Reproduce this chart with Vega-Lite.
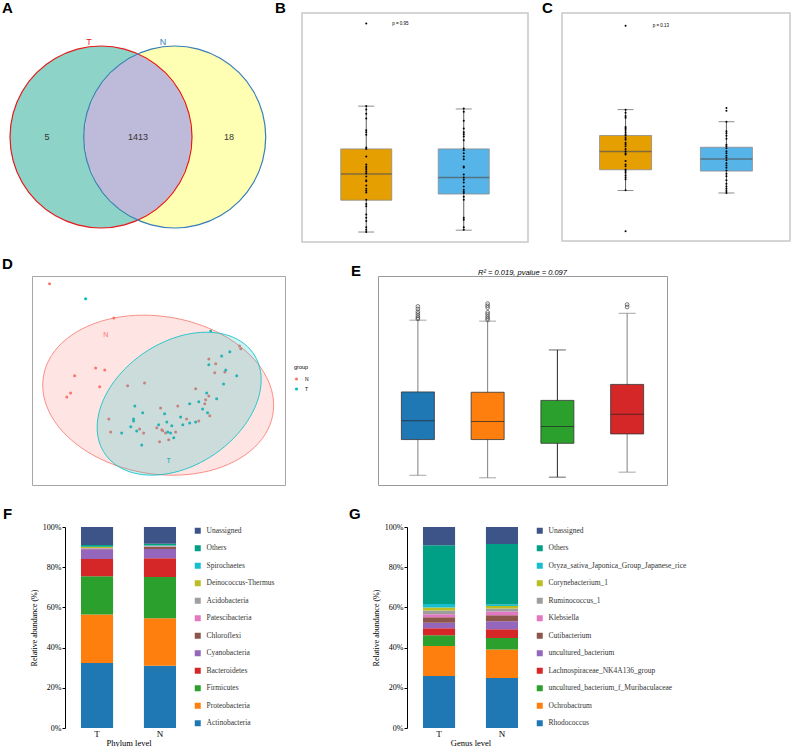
{
"$schema": "https://vega.github.io/schema/vega-lite/v6.json",
"padding": 0,
"background": "white",
"config": {
 "view": {"stroke": null},
 "font": "Liberation Sans",
 "title": {"fontSize": 15, "fontWeight": "bold", "anchor": "start", "frame": "group", "offset": 0, "font": "Liberation Sans", "color": "#000000"},
 "axis": {"labelFont": "Liberation Sans", "titleFont": "Liberation Sans", "titleFontWeight": "normal", "labelColor": "#4d4d4d", "titleColor": "#000000", "tickColor": "#4d4d4d", "domain": false, "grid": false, "labelFontSize": 4.5, "titleFontSize": 5.5, "tickSize": 2, "labelPadding": 1, "titlePadding": 2}
},
"datasets": {
 "vennT": [{"i":0,"x":1,"y":0},{"i":1,"x":0.9659,"y":0.2588},{"i":2,"x":0.866,"y":0.5},{"i":3,"x":0.7071,"y":0.7071},{"i":4,"x":0.5,"y":0.866},{"i":5,"x":0.2588,"y":0.9659},{"i":6,"x":0,"y":1},{"i":7,"x":-0.2588,"y":0.9659},{"i":8,"x":-0.5,"y":0.866},{"i":9,"x":-0.7071,"y":0.7071},{"i":10,"x":-0.866,"y":0.5},{"i":11,"x":-0.9659,"y":0.2588},{"i":12,"x":-1,"y":0},{"i":13,"x":-0.9659,"y":-0.2588},{"i":14,"x":-0.866,"y":-0.5},{"i":15,"x":-0.7071,"y":-0.7071},{"i":16,"x":-0.5,"y":-0.866},{"i":17,"x":-0.2588,"y":-0.9659},{"i":18,"x":0,"y":-1},{"i":19,"x":0.2588,"y":-0.9659},{"i":20,"x":0.5,"y":-0.866},{"i":21,"x":0.7071,"y":-0.7071},{"i":22,"x":0.866,"y":-0.5},{"i":23,"x":0.9659,"y":-0.2588}],
 "vennN": [{"i":0,"x":1.81,"y":0},{"i":1,"x":1.7759,"y":0.2588},{"i":2,"x":1.676,"y":0.5},{"i":3,"x":1.5171,"y":0.7071},{"i":4,"x":1.31,"y":0.866},{"i":5,"x":1.0688,"y":0.9659},{"i":6,"x":0.81,"y":1},{"i":7,"x":0.5512,"y":0.9659},{"i":8,"x":0.31,"y":0.866},{"i":9,"x":0.1029,"y":0.7071},{"i":10,"x":-0.056,"y":0.5},{"i":11,"x":-0.1559,"y":0.2588},{"i":12,"x":-0.19,"y":0},{"i":13,"x":-0.1559,"y":-0.2588},{"i":14,"x":-0.056,"y":-0.5},{"i":15,"x":0.1029,"y":-0.7071},{"i":16,"x":0.31,"y":-0.866},{"i":17,"x":0.5512,"y":-0.9659},{"i":18,"x":0.81,"y":-1},{"i":19,"x":1.0688,"y":-0.9659},{"i":20,"x":1.31,"y":-0.866},{"i":21,"x":1.5171,"y":-0.7071},{"i":22,"x":1.676,"y":-0.5},{"i":23,"x":1.7759,"y":-0.2588}],
 "vennLens": [{"i":0,"x":0.405,"y":-0.9143},{"i":1,"x":0.648,"y":-0.7615},{"i":2,"x":0.8377,"y":-0.5461},{"i":3,"x":0.9588,"y":-0.284},{"i":4,"x":1,"y":0},{"i":5,"x":0.9588,"y":0.284},{"i":6,"x":0.8377,"y":0.5461},{"i":7,"x":0.648,"y":0.7615},{"i":8,"x":0.405,"y":0.9143},{"i":9,"x":0.162,"y":0.7615},{"i":10,"x":-0.0277,"y":0.5461},{"i":11,"x":-0.1488,"y":0.284},{"i":12,"x":-0.19,"y":0},{"i":13,"x":-0.1488,"y":-0.284},{"i":14,"x":-0.0277,"y":-0.5461},{"i":15,"x":0.162,"y":-0.7615}],
 "vennText": [{"x":-0.132,"y":1.044,"label":"T","c":"T"},{"x":0.681,"y":1.044,"label":"N","c":"N"},{"x":-0.593,"y":0,"label":"5","c":"n"},{"x":0.407,"y":0,"label":"1413","c":"n"},{"x":1.407,"y":0,"label":"18","c":"n"}],
 "bBox": [{"g":1,"grp":"N","lo":321,"q1":388,"med":443,"q3":496,"hi":586},{"g":2,"grp":"T","lo":325,"q1":401,"med":436,"q3":496,"hi":580}],
 "bPts": [{"g":1,"v":760},{"g":1,"v":586},{"g":1,"v":579},{"g":1,"v":570},{"g":1,"v":560},{"g":1,"v":535},{"g":1,"v":531},{"g":1,"v":526},{"g":1,"v":499},{"g":1,"v":496},{"g":1,"v":480},{"g":1,"v":463},{"g":1,"v":459},{"g":1,"v":456},{"g":1,"v":452},{"g":1,"v":448},{"g":1,"v":444},{"g":1,"v":438},{"g":1,"v":430},{"g":1,"v":428},{"g":1,"v":419},{"g":1,"v":412},{"g":1,"v":408},{"g":1,"v":404},{"g":1,"v":389},{"g":1,"v":380},{"g":1,"v":375},{"g":1,"v":358},{"g":1,"v":351},{"g":1,"v":344},{"g":1,"v":331},{"g":1,"v":326},{"g":1,"v":321},
  {"g":2,"v":581},{"g":2,"v":574},{"g":2,"v":555},{"g":2,"v":539},{"g":2,"v":531},{"g":2,"v":527},{"g":2,"v":522},{"g":2,"v":514},{"g":2,"v":497},{"g":2,"v":493},{"g":2,"v":487},{"g":2,"v":480},{"g":2,"v":474},{"g":2,"v":459},{"g":2,"v":457},{"g":2,"v":442},{"g":2,"v":436},{"g":2,"v":431},{"g":2,"v":425},{"g":2,"v":417},{"g":2,"v":410},{"g":2,"v":406},{"g":2,"v":403},{"g":2,"v":395},{"g":2,"v":389},{"g":2,"v":351},{"g":2,"v":347},{"g":2,"v":331},{"g":2,"v":326}],
 "cBox": [{"g":1,"grp":"N","lo":2.01,"q1":2.64,"med":3.2,"q3":3.69,"hi":4.48},{"g":2,"grp":"T","lo":1.93,"q1":2.6,"med":2.97,"q3":3.33,"hi":4.11}],
 "cPts": [{"g":1,"v":7.05},{"g":1,"v":4.48},{"g":1,"v":4.39},{"g":1,"v":4.29},{"g":1,"v":4.23},{"g":1,"v":3.95},{"g":1,"v":3.91},{"g":1,"v":3.86},{"g":1,"v":3.79},{"g":1,"v":3.73},{"g":1,"v":3.68},{"g":1,"v":3.61},{"g":1,"v":3.56},{"g":1,"v":3.47},{"g":1,"v":3.42},{"g":1,"v":3.36},{"g":1,"v":3.28},{"g":1,"v":3.21},{"g":1,"v":3.15},{"g":1,"v":3.11},{"g":1,"v":2.91},{"g":1,"v":2.8},{"g":1,"v":2.75},{"g":1,"v":2.65},{"g":1,"v":2.6},{"g":1,"v":2.55},{"g":1,"v":2.47},{"g":1,"v":2.41},{"g":1,"v":2.35},{"g":1,"v":2.01},{"g":1,"v":0.76},
  {"g":2,"v":4.53},{"g":2,"v":4.45},{"g":2,"v":4.11},{"g":2,"v":3.82},{"g":2,"v":3.76},{"g":2,"v":3.68},{"g":2,"v":3.59},{"g":2,"v":3.41},{"g":2,"v":3.36},{"g":2,"v":3.3},{"g":2,"v":3.21},{"g":2,"v":3.15},{"g":2,"v":3.07},{"g":2,"v":3.01},{"g":2,"v":2.93},{"g":2,"v":2.84},{"g":2,"v":2.77},{"g":2,"v":2.7},{"g":2,"v":2.62},{"g":2,"v":2.52},{"g":2,"v":2.44},{"g":2,"v":2.32},{"g":2,"v":2.21},{"g":2,"v":2.13},{"g":2,"v":2.06},{"g":2,"v":1.99},{"g":2,"v":1.93}],
 "dPts": [{"group":"N","pc1":-0.379,"pc2":0.355},{"group":"N","pc1":-0.174,"pc2":0.25},{"group":"N","pc1":-0.232,"pc2":0.096},{"group":"N","pc1":-0.203,"pc2":0.09},{"group":"N","pc1":-0.299,"pc2":0.072},{"group":"N","pc1":-0.219,"pc2":0.038},{"group":"N","pc1":-0.312,"pc2":0.019},{"group":"N","pc1":-0.324,"pc2":0.007},{"group":"N","pc1":-0.13,"pc2":0.041},{"group":"N","pc1":-0.076,"pc2":0.05},{"group":"N","pc1":0.129,"pc2":0.124},{"group":"N","pc1":0.151,"pc2":0.109},{"group":"N","pc1":0.148,"pc2":0.081},{"group":"N","pc1":0.18,"pc2":0.084},{"group":"N","pc1":0.227,"pc2":0.164},{"group":"N","pc1":0.231,"pc2":0.155},{"group":"N","pc1":0.087,"pc2":0.032},{"group":"N","pc1":0.129,"pc2":0.01},{"group":"N","pc1":0.119,"pc2":-0.002},{"group":"N","pc1":0.116,"pc2":-0.014},{"group":"N","pc1":0.132,"pc2":-0.051},{"group":"N","pc1":0.03,"pc2":-0.021},{"group":"N","pc1":-0.025,"pc2":-0.027},{"group":"N","pc1":-0.19,"pc2":-0.061},{"group":"N","pc1":-0.184,"pc2":-0.101},{"group":"N","pc1":-0.092,"pc2":-0.092},{"group":"N","pc1":-0.079,"pc2":-0.104},{"group":"N","pc1":-0.037,"pc2":-0.088},{"group":"N","pc1":-0.021,"pc2":-0.094},{"group":"N","pc1":-0.018,"pc2":-0.097},{"group":"N","pc1":-0.009,"pc2":-0.104},{"group":"N","pc1":0.023,"pc2":-0.101},{"group":"N","pc1":0.058,"pc2":-0.061},{"group":"N","pc1":0.097,"pc2":-0.067},{"group":"N","pc1":-0.028,"pc2":-0.131},{"group":"N","pc1":0.001,"pc2":-0.125},
  {"group":"T","pc1":-0.264,"pc2":0.309},{"group":"T","pc1":0.135,"pc2":0.21},{"group":"T","pc1":0.17,"pc2":0.133},{"group":"T","pc1":0.196,"pc2":0.146},{"group":"T","pc1":0.129,"pc2":0.106},{"group":"T","pc1":0.183,"pc2":0.09},{"group":"T","pc1":0.218,"pc2":0.072},{"group":"T","pc1":0.176,"pc2":0.047},{"group":"T","pc1":0.122,"pc2":0.019},{"group":"T","pc1":0.154,"pc2":0.001},{"group":"T","pc1":0.097,"pc2":-0.008},{"group":"T","pc1":0.068,"pc2":-0.014},{"group":"T","pc1":0.109,"pc2":-0.03},{"group":"T","pc1":0.125,"pc2":-0.042},{"group":"T","pc1":-0.107,"pc2":-0.021},{"group":"T","pc1":-0.082,"pc2":-0.042},{"group":"T","pc1":-0.111,"pc2":-0.061},{"group":"T","pc1":-0.111,"pc2":-0.067},{"group":"T","pc1":-0.012,"pc2":-0.045},{"group":"T","pc1":0.039,"pc2":-0.055},{"group":"T","pc1":-0.005,"pc2":-0.07},{"group":"T","pc1":-0.031,"pc2":-0.079},{"group":"T","pc1":0.011,"pc2":-0.082},{"group":"T","pc1":0.046,"pc2":-0.079},{"group":"T","pc1":0.068,"pc2":-0.073},{"group":"T","pc1":0.087,"pc2":-0.07},{"group":"T","pc1":-0.12,"pc2":-0.085},{"group":"T","pc1":-0.101,"pc2":-0.098},{"group":"T","pc1":-0.149,"pc2":-0.104},{"group":"T","pc1":-0.002,"pc2":-0.101},{"group":"T","pc1":0.007,"pc2":-0.104},{"group":"T","pc1":0.017,"pc2":-0.119},{"group":"T","pc1":-0.085,"pc2":-0.141}],
 "dEllN": [{"i":0,"x":0.3359,"y":-0.0185},{"i":1,"x":0.3233,"y":-0.0807},{"i":2,"x":0.2865,"y":-0.1366},{"i":3,"x":0.228,"y":-0.1822},{"i":4,"x":0.1517,"y":-0.2147},{"i":5,"x":0.0628,"y":-0.2317},{"i":6,"x":-0.0325,"y":-0.232},{"i":7,"x":-0.1278,"y":-0.2157},{"i":8,"x":-0.2167,"y":-0.1839},{"i":9,"x":-0.293,"y":-0.1386},{"i":10,"x":-0.3515,"y":-0.0832},{"i":11,"x":-0.3883,"y":-0.0211},{"i":12,"x":-0.4009,"y":0.0431},{"i":13,"x":-0.3883,"y":0.1053},{"i":14,"x":-0.3515,"y":0.1612},{"i":15,"x":-0.293,"y":0.2068},{"i":16,"x":-0.2167,"y":0.2393},{"i":17,"x":-0.1278,"y":0.2563},{"i":18,"x":-0.0325,"y":0.2566},{"i":19,"x":0.0628,"y":0.2403},{"i":20,"x":0.1517,"y":0.2085},{"i":21,"x":0.228,"y":0.1632},{"i":22,"x":0.2865,"y":0.1078},{"i":23,"x":0.3233,"y":0.0457}],
 "dEllT": [{"i":0,"x":0.296,"y":0.0594},{"i":1,"x":0.2871,"y":0.0032},{"i":2,"x":0.2609,"y":-0.0541},{"i":3,"x":0.2194,"y":-0.1087},{"i":4,"x":0.1652,"y":-0.1568},{"i":5,"x":0.1021,"y":-0.1952},{"i":6,"x":0.0344,"y":-0.2212},{"i":7,"x":-0.0333,"y":-0.233},{"i":8,"x":-0.0964,"y":-0.23},{"i":9,"x":-0.1506,"y":-0.2123},{"i":10,"x":-0.1921,"y":-0.1809},{"i":11,"x":-0.2183,"y":-0.1382},{"i":12,"x":-0.2272,"y":-0.087},{"i":13,"x":-0.2183,"y":-0.0308},{"i":14,"x":-0.1921,"y":0.0265},{"i":15,"x":-0.1506,"y":0.0811},{"i":16,"x":-0.0964,"y":0.1292},{"i":17,"x":-0.0333,"y":0.1676},{"i":18,"x":0.0344,"y":0.1936},{"i":19,"x":0.1021,"y":0.2054},{"i":20,"x":0.1652,"y":0.2024},{"i":21,"x":0.2194,"y":0.1847},{"i":22,"x":0.2609,"y":0.1533},{"i":23,"x":0.2871,"y":0.1106}],
 "eBox": [{"k":1,"name":"All between Group","lo":0.315,"q1":0.429,"med":0.489,"q3":0.581,"hi":0.81},{"k":2,"name":"All within Group","lo":0.307,"q1":0.429,"med":0.487,"q3":0.58,"hi":0.807},{"k":3,"name":"T","lo":0.309,"q1":0.417,"med":0.471,"q3":0.554,"hi":0.715},{"k":4,"name":"N","lo":0.325,"q1":0.447,"med":0.51,"q3":0.605,"hi":0.832}],
 "eOut": [{"k":1,"v":0.814},{"k":1,"v":0.818},{"k":1,"v":0.824},{"k":1,"v":0.831},{"k":1,"v":0.837},{"k":1,"v":0.846},{"k":1,"v":0.854},{"k":2,"v":0.811},{"k":2,"v":0.816},{"k":2,"v":0.822},{"k":2,"v":0.829},{"k":2,"v":0.835},{"k":2,"v":0.85},{"k":2,"v":0.856},{"k":2,"v":0.863},{"k":4,"v":0.852},{"k":4,"v":0.86}],
 "fPhy": [{"sample":"T","taxon":"Actinobacteria","value":32.3,"rank":1},{"sample":"T","taxon":"Proteobacteria","value":24.2,"rank":2},{"sample":"T","taxon":"Firmicutes","value":19.0,"rank":3},{"sample":"T","taxon":"Bacteroidetes","value":8.6,"rank":4},{"sample":"T","taxon":"Cyanobacteria","value":4.8,"rank":5},{"sample":"T","taxon":"Chloroflexi","value":0.3,"rank":6},{"sample":"T","taxon":"Patescibacteria","value":0.2,"rank":7},{"sample":"T","taxon":"Acidobacteria","value":0.2,"rank":8},{"sample":"T","taxon":"Deinococcus-Thermus","value":0.4,"rank":9},{"sample":"T","taxon":"Spirochaetes","value":0.2,"rank":10},{"sample":"T","taxon":"Others","value":0.9,"rank":11},{"sample":"T","taxon":"Unassigned","value":8.9,"rank":12},
  {"sample":"N","taxon":"Actinobacteria","value":31.0,"rank":1},{"sample":"N","taxon":"Proteobacteria","value":23.6,"rank":2},{"sample":"N","taxon":"Firmicutes","value":20.5,"rank":3},{"sample":"N","taxon":"Bacteroidetes","value":9.3,"rank":4},{"sample":"N","taxon":"Cyanobacteria","value":4.7,"rank":5},{"sample":"N","taxon":"Chloroflexi","value":1.0,"rank":6},{"sample":"N","taxon":"Patescibacteria","value":0.2,"rank":7},{"sample":"N","taxon":"Acidobacteria","value":0.2,"rank":8},{"sample":"N","taxon":"Deinococcus-Thermus","value":0.2,"rank":9},{"sample":"N","taxon":"Spirochaetes","value":0.1,"rank":10},{"sample":"N","taxon":"Others","value":0.9,"rank":11},{"sample":"N","taxon":"Unassigned","value":8.3,"rank":12}],
 "gGen": [{"sample":"T","taxon":"Rhodococcus","value":25.9,"rank":1},{"sample":"T","taxon":"Ochrobactrum","value":14.9,"rank":2},{"sample":"T","taxon":"uncultured_bacterium_f_Muribaculaceae","value":5.3,"rank":3},{"sample":"T","taxon":"Lachnospiraceae_NK4A136_group","value":3.5,"rank":4},{"sample":"T","taxon":"uncultured_bacterium","value":2.8,"rank":5},{"sample":"T","taxon":"Cutibacterium","value":2.7,"rank":6},{"sample":"T","taxon":"Klebsiella","value":1.5,"rank":7},{"sample":"T","taxon":"Ruminococcus_1","value":1.8,"rank":8},{"sample":"T","taxon":"Corynebacterium_1","value":1.5,"rank":9},{"sample":"T","taxon":"Oryza_sativa_Japonica_Group_Japanese_rice","value":1.8,"rank":10},{"sample":"T","taxon":"Others","value":29.2,"rank":11},{"sample":"T","taxon":"Unassigned","value":9.1,"rank":12},
  {"sample":"N","taxon":"Rhodococcus","value":24.9,"rank":1},{"sample":"N","taxon":"Ochrobactrum","value":14.1,"rank":2},{"sample":"N","taxon":"uncultured_bacterium_f_Muribaculaceae","value":5.8,"rank":3},{"sample":"N","taxon":"Lachnospiraceae_NK4A136_group","value":4.3,"rank":4},{"sample":"N","taxon":"uncultured_bacterium","value":4.0,"rank":5},{"sample":"N","taxon":"Cutibacterium","value":3.0,"rank":6},{"sample":"N","taxon":"Klebsiella","value":1.9,"rank":7},{"sample":"N","taxon":"Ruminococcus_1","value":1.4,"rank":8},{"sample":"N","taxon":"Corynebacterium_1","value":1.3,"rank":9},{"sample":"N","taxon":"Oryza_sativa_Japonica_Group_Japanese_rice","value":0.7,"rank":10},{"sample":"N","taxon":"Others","value":30.1,"rank":11},{"sample":"N","taxon":"Unassigned","value":8.5,"rank":12}]
},
"spacing": -4,
"resolve": {"scale": {"color": "independent", "fill": "independent", "stroke": "independent"}, "legend": {"color": "independent"}},
"vconcat": [
 {"hconcat": [
  {"width": 268, "height": 247,
   "title": {"text": "A", "dx": 2, "offset": -3},
   "layer": [
    {"data": {"name": "vennT"}, "mark": {"type": "line", "interpolate": "cardinal-closed", "fill": "#8DD3C7", "strokeWidth": 0},
     "encoding": {"x": {"field": "x", "type": "quantitative", "scale": {"domain": [-1.11, 1.835], "nice": false, "zero": false}, "axis": null},
                  "y": {"field": "y", "type": "quantitative", "scale": {"domain": [-1.352, 1.363], "nice": false, "zero": false}, "axis": null},
                  "order": {"field": "i", "type": "quantitative"}}},
    {"data": {"name": "vennN"}, "mark": {"type": "line", "interpolate": "cardinal-closed", "fill": "#FFFFB3", "strokeWidth": 0},
     "encoding": {"x": {"field": "x", "type": "quantitative", "axis": null}, "y": {"field": "y", "type": "quantitative", "axis": null}, "order": {"field": "i", "type": "quantitative"}}},
    {"data": {"name": "vennLens"}, "mark": {"type": "line", "interpolate": "linear-closed", "fill": "#BEBADA", "strokeWidth": 0},
     "encoding": {"x": {"field": "x", "type": "quantitative", "axis": null}, "y": {"field": "y", "type": "quantitative", "axis": null}, "order": {"field": "i", "type": "quantitative"}}},
    {"data": {"name": "vennT"}, "mark": {"type": "line", "interpolate": "cardinal-closed", "stroke": "#E41A1C", "strokeWidth": 1.2},
     "encoding": {"x": {"field": "x", "type": "quantitative", "axis": null}, "y": {"field": "y", "type": "quantitative", "axis": null}, "order": {"field": "i", "type": "quantitative"}}},
    {"data": {"name": "vennN"}, "mark": {"type": "line", "interpolate": "cardinal-closed", "stroke": "#377EB8", "strokeWidth": 1.2},
     "encoding": {"x": {"field": "x", "type": "quantitative", "axis": null}, "y": {"field": "y", "type": "quantitative", "axis": null}, "order": {"field": "i", "type": "quantitative"}}},
    {"data": {"name": "vennText"}, "mark": {"type": "text", "fontSize": 9, "baseline": "middle"},
     "encoding": {"x": {"field": "x", "type": "quantitative", "axis": null}, "y": {"field": "y", "type": "quantitative", "axis": null}, "text": {"field": "label"},
                  "color": {"field": "c", "type": "nominal", "scale": {"domain": ["T", "N", "n"], "range": ["#E41A1C", "#377EB8", "#333333"]}, "legend": null}}}
   ]},
  {"width": 226, "height": 229,
   "title": {"text": "B", "dx": -27, "offset": -3},
   "view": {"stroke": "#c8c8c8", "strokeWidth": 1.5},
   "layer": [
    {"data": {"name": "bBox"}, "mark": {"type": "rule", "color": "#333333", "strokeWidth": 0.8},
     "encoding": {"x": {"field": "g", "type": "quantitative", "scale": {"domain": [0.392, 2.608], "nice": false, "zero": false}, "axis": {"title": "group", "values": [1, 2], "labelExpr": "datum.value == 1 ? 'N' : 'T'"}},
                  "y": {"field": "lo", "type": "quantitative", "scale": {"domain": [300, 782], "nice": false, "zero": false}, "axis": {"title": "OTU", "values": [300, 400, 500, 600, 700]}},
                  "y2": {"field": "hi"}}},
    {"data": {"name": "bBox"}, "mark": {"type": "tick", "orient": "horizontal", "size": 16, "thickness": 0.8, "color": "#333333"},
     "encoding": {"x": {"field": "g", "type": "quantitative", "axis": null}, "y": {"field": "lo", "type": "quantitative", "axis": null}}},
    {"data": {"name": "bBox"}, "mark": {"type": "tick", "orient": "horizontal", "size": 16, "thickness": 0.8, "color": "#333333"},
     "encoding": {"x": {"field": "g", "type": "quantitative", "axis": null}, "y": {"field": "hi", "type": "quantitative", "axis": null}}},
    {"data": {"name": "bBox"}, "mark": {"type": "bar", "size": 51, "stroke": "#8c8c8c", "strokeWidth": 0.8},
     "encoding": {"x": {"field": "g", "type": "quantitative", "axis": null}, "y": {"field": "q1", "type": "quantitative", "axis": null}, "y2": {"field": "q3"},
                  "fill": {"field": "grp", "type": "nominal", "scale": {"domain": ["N", "T"], "range": ["#E69F00", "#56B4E9"]}, "legend": null}}},
    {"data": {"name": "bBox"}, "mark": {"type": "tick", "orient": "horizontal", "size": 51, "thickness": 1.5, "color": "#555555"},
     "encoding": {"x": {"field": "g", "type": "quantitative", "axis": null}, "y": {"field": "med", "type": "quantitative", "axis": null}}},
    {"data": {"name": "bPts"}, "mark": {"type": "point", "filled": true, "size": 4, "color": "#000000", "opacity": 1},
     "encoding": {"x": {"field": "g", "type": "quantitative", "axis": null}, "y": {"field": "v", "type": "quantitative", "axis": null}}},
    {"data": {"values": [{"label": "p = 0.95"}]}, "mark": {"type": "text", "fontSize": 4.5, "color": "#000000"},
     "encoding": {"x": {"datum": 1.35, "axis": null}, "y": {"datum": 759, "axis": null}, "text": {"field": "label"}}}
   ]},
  {"width": 228, "height": 228,
   "title": {"text": "C", "dx": -20, "offset": -3},
   "view": {"stroke": "#c8c8c8", "strokeWidth": 1.5},
   "layer": [
    {"data": {"name": "cBox"}, "mark": {"type": "rule", "color": "#333333", "strokeWidth": 0.8},
     "encoding": {"x": {"field": "g", "type": "quantitative", "scale": {"domain": [0.419, 2.581], "nice": false, "zero": false}, "axis": {"title": "group", "values": [1, 2], "labelExpr": "datum.value == 1 ? 'N' : 'T'"}},
                  "y": {"field": "lo", "type": "quantitative", "scale": {"domain": [0.46, 7.44], "nice": false, "zero": false}, "axis": {"title": "Shannon", "values": [2, 4, 6]}},
                  "y2": {"field": "hi"}}},
    {"data": {"name": "cBox"}, "mark": {"type": "tick", "orient": "horizontal", "size": 16, "thickness": 0.8, "color": "#333333"},
     "encoding": {"x": {"field": "g", "type": "quantitative", "axis": null}, "y": {"field": "lo", "type": "quantitative", "axis": null}}},
    {"data": {"name": "cBox"}, "mark": {"type": "tick", "orient": "horizontal", "size": 16, "thickness": 0.8, "color": "#333333"},
     "encoding": {"x": {"field": "g", "type": "quantitative", "axis": null}, "y": {"field": "hi", "type": "quantitative", "axis": null}}},
    {"data": {"name": "cBox"}, "mark": {"type": "bar", "size": 52, "stroke": "#8c8c8c", "strokeWidth": 0.8},
     "encoding": {"x": {"field": "g", "type": "quantitative", "axis": null}, "y": {"field": "q1", "type": "quantitative", "axis": null}, "y2": {"field": "q3"},
                  "fill": {"field": "grp", "type": "nominal", "scale": {"domain": ["N", "T"], "range": ["#E69F00", "#56B4E9"]}, "legend": null}}},
    {"data": {"name": "cBox"}, "mark": {"type": "tick", "orient": "horizontal", "size": 52, "thickness": 1.5, "color": "#555555"},
     "encoding": {"x": {"field": "g", "type": "quantitative", "axis": null}, "y": {"field": "med", "type": "quantitative", "axis": null}}},
    {"data": {"name": "cPts"}, "mark": {"type": "point", "filled": true, "size": 4, "color": "#000000", "opacity": 1},
     "encoding": {"x": {"field": "g", "type": "quantitative", "axis": null}, "y": {"field": "v", "type": "quantitative", "axis": null}}},
    {"data": {"values": [{"label": "p = 0.13"}]}, "mark": {"type": "text", "fontSize": 4.5, "color": "#000000"},
     "encoding": {"x": {"datum": 1.35, "axis": null}, "y": {"datum": 7.05, "axis": null}, "text": {"field": "label"}}}
   ]}
 ], "spacing": 34, "bounds": "flush",
 "resolve": {"scale": {"color": "independent", "fill": "independent", "stroke": "independent"}, "legend": {"color": "independent"}}},
 {"vconcat": [
 {"hconcat": [
  {"width": 32, "height": 232, "data": {"values": []}, "mark": "point"},
  {"hconcat": [
   {"width": 253, "height": 209,
    "title": {"text": "D", "dx": -30},
    "view": {"stroke": "#a6a6a6", "strokeWidth": 1},
    "layer": [
     {"data": {"name": "dPts"}, "mark": {"type": "point", "filled": true, "size": 9, "opacity": 1},
      "encoding": {"x": {"field": "pc1", "type": "quantitative", "scale": {"domain": [-0.435, 0.372], "nice": false, "zero": false}, "axis": {"title": "PC1: 15.70%", "values": [-0.4, -0.2, 0, 0.2], "format": ".1f", "grid": true, "gridColor": "#ebebeb", "titleFontSize": 6, "titlePadding": 1}},
                   "y": {"field": "pc2", "type": "quantitative", "scale": {"domain": [-0.264, 0.379], "nice": false, "zero": false}, "axis": {"title": "PC2: 8.04%", "values": [-0.2, 0, 0.2], "format": ".1f", "grid": true, "gridColor": "#ebebeb", "titleFontSize": 6, "titlePadding": 3}},
                   "color": {"field": "group", "type": "nominal", "scale": {"domain": ["N", "T"], "range": ["#F8766D", "#00BFC4"]},
                             "legend": {"title": "group", "orient": "none", "legendX": 262, "legendY": 89, "titleFontSize": 5.5, "titleFontWeight": "normal", "titleColor": "#000000", "labelFontSize": 5, "labelColor": "#000000", "symbolSize": 10, "symbolType": "circle", "rowPadding": 4, "titlePadding": 6, "labelOffset": 6}}}},
     {"data": {"name": "dEllN"}, "mark": {"type": "line", "interpolate": "cardinal-closed", "fill": "#F8766D", "fillOpacity": 0.2, "stroke": "#F8766D", "strokeWidth": 0.8},
      "encoding": {"x": {"field": "x", "type": "quantitative", "axis": null}, "y": {"field": "y", "type": "quantitative", "axis": null}, "order": {"field": "i", "type": "quantitative"}}},
     {"data": {"name": "dEllT"}, "mark": {"type": "line", "interpolate": "cardinal-closed", "fill": "#00BFC4", "fillOpacity": 0.2, "stroke": "#00BFC4", "strokeWidth": 0.8},
      "encoding": {"x": {"field": "x", "type": "quantitative", "axis": null}, "y": {"field": "y", "type": "quantitative", "axis": null}, "order": {"field": "i", "type": "quantitative"}}},
     {"data": {"values": [{"label": "N"}]}, "mark": {"type": "text", "fontSize": 7, "color": "#F8766D"},
      "encoding": {"x": {"datum": -0.2, "axis": null}, "y": {"datum": 0.197, "axis": null}, "text": {"field": "label"}}},
     {"data": {"values": [{"label": "T"}]}, "mark": {"type": "text", "fontSize": 7, "color": "#00A9AD"},
      "encoding": {"x": {"datum": 0.001, "axis": null}, "y": {"datum": -0.19, "axis": null}, "text": {"field": "label"}}}
    ]},
   {"width": 289, "height": 209,
    "title": {"text": "E", "dx": -27, "offset": -10},
    "view": {"stroke": "#999999", "strokeWidth": 1},
    "layer": [
     {"data": {"name": "eBox"}, "mark": {"type": "rule", "strokeWidth": 1},
      "encoding": {"x": {"field": "k", "type": "quantitative", "scale": {"domain": [0.5, 4.5], "nice": false, "zero": false}, "axis": {"title": null, "values": [1, 2, 3, 4], "labelExpr": "['', 'All between Group', 'All within Group', 'T', 'N'][datum.value]", "labelFontSize": 5, "labelColor": "#333333", "tickSize": 3, "tickColor": "#333333", "labelPadding": 3}},
                   "y": {"field": "lo", "type": "quantitative", "scale": {"domain": [0.284, 0.951], "nice": false, "zero": false}, "axis": {"title": "bray_curtis", "values": [0.3, 0.4, 0.5, 0.6, 0.7, 0.8, 0.9], "format": ".1f", "labelFontSize": 5, "labelColor": "#333333", "tickSize": 3, "tickColor": "#333333", "labelPadding": 2, "titleFontSize": 4.5, "titlePadding": 3}},
                   "y2": {"field": "hi"},
                   "stroke": {"field": "name", "type": "nominal", "scale": {"domain": ["All between Group", "All within Group", "T", "N"], "range": ["#808080", "#808080", "#262626", "#808080"]}, "legend": null}}},
     {"data": {"name": "eBox"}, "mark": {"type": "tick", "orient": "horizontal", "size": 17, "thickness": 1},
      "encoding": {"x": {"field": "k", "type": "quantitative", "axis": null}, "y": {"field": "lo", "type": "quantitative", "axis": null},
                   "color": {"field": "name", "type": "nominal", "scale": {"domain": ["All between Group", "All within Group", "T", "N"], "range": ["#808080", "#808080", "#262626", "#808080"]}, "legend": null}}},
     {"data": {"name": "eBox"}, "mark": {"type": "tick", "orient": "horizontal", "size": 17, "thickness": 1},
      "encoding": {"x": {"field": "k", "type": "quantitative", "axis": null}, "y": {"field": "hi", "type": "quantitative", "axis": null},
                   "color": {"field": "name", "type": "nominal", "legend": null}}},
     {"data": {"name": "eBox"}, "mark": {"type": "bar", "size": 33, "stroke": "#333333", "strokeWidth": 0.8},
      "encoding": {"x": {"field": "k", "type": "quantitative", "axis": null}, "y": {"field": "q1", "type": "quantitative", "axis": null}, "y2": {"field": "q3"},
                   "fill": {"field": "name", "type": "nominal", "scale": {"domain": ["All between Group", "All within Group", "T", "N"], "range": ["#1F77B4", "#FF7F0E", "#2CA02C", "#D62728"]}, "legend": null}}},
     {"data": {"name": "eBox"}, "mark": {"type": "tick", "orient": "horizontal", "size": 33, "thickness": 1, "color": "#222222"},
      "encoding": {"x": {"field": "k", "type": "quantitative", "axis": null}, "y": {"field": "med", "type": "quantitative", "axis": null}}},
     {"data": {"name": "eOut"}, "mark": {"type": "point", "filled": false, "size": 14, "stroke": "#444444", "strokeWidth": 0.7, "opacity": 1},
      "encoding": {"x": {"field": "k", "type": "quantitative", "axis": null}, "y": {"field": "v", "type": "quantitative", "axis": null}}},
     {"data": {"values": [{"label": "R² = 0.019, pvalue = 0.097"}]}, "mark": {"type": "text", "fontSize": 7.5, "color": "#000000", "fontStyle": "italic"},
      "encoding": {"x": {"datum": 2.5, "axis": null}, "y": {"datum": 0.962, "axis": null}, "text": {"field": "label"}}}
    ]}
  ], "spacing": 93, "bounds": "flush",
  "resolve": {"scale": {"color": "independent", "fill": "independent", "stroke": "independent"}, "legend": {"color": "independent"}}}
 ], "spacing": 0, "bounds": "flush",
 "resolve": {"scale": {"color": "independent", "fill": "independent", "stroke": "independent"}, "legend": {"color": "independent"}}},
 {"hconcat": [
  {"width": 65, "height": 1, "data": {"values": []}, "mark": "point"},
  {"hconcat": [
   {"width": 127, "height": 201,
    "title": {"text": "F", "dx": -62, "offset": 1},
    "data": {"name": "fPhy"},
    "mark": {"type": "bar"},
    "encoding": {
     "x": {"field": "sample", "type": "nominal", "sort": ["T", "N"], "scale": {"domain": ["T", "N"], "paddingInner": 0.49, "paddingOuter": 0.254},
           "axis": {"title": "Phylum level", "labelAngle": 0, "labelFont": "Liberation Serif", "labelFontSize": 9, "labelColor": "#000000", "titleFont": "Liberation Serif", "titleFontSize": 8.5, "ticks": false, "domain": false, "labelPadding": 1, "titlePadding": 0}},
     "y": {"field": "value", "type": "quantitative", "stack": "zero", "scale": {"domain": [0, 100], "nice": false},
           "axis": {"title": "Relative abundance (%)", "values": [0, 20, 40, 60, 80, 100], "labelExpr": "datum.value + '%'", "labelFont": "Liberation Serif", "labelFontSize": 8, "labelColor": "#000000", "titleFont": "Liberation Serif", "titleFontSize": 8, "domain": true, "domainColor": "#000000", "ticks": true, "tickColor": "#000000", "tickSize": 3, "labelPadding": 1, "titlePadding": 4}},
     "color": {"field": "taxon", "type": "nominal",
               "scale": {"domain": ["Unassigned", "Others", "Spirochaetes", "Deinococcus-Thermus", "Acidobacteria", "Patescibacteria", "Chloroflexi", "Cyanobacteria", "Bacteroidetes", "Firmicutes", "Proteobacteria", "Actinobacteria"],
                         "range": ["#3C5488", "#00A087", "#17BECF", "#BCBD22", "#9E9E9E", "#E377C2", "#8C564B", "#9467BD", "#D62728", "#2CA02C", "#FF7F0E", "#1F77B4"]},
               "legend": {"title": null, "orient": "right", "offset": 2, "symbolType": "square", "symbolSize": 36, "symbolStrokeWidth": 0, "labelFont": "Liberation Serif", "labelFontSize": 7.5, "labelColor": "#333333", "rowPadding": 8.5, "labelOffset": 5}},
     "order": {"field": "rank", "type": "quantitative"}
    }},
   {"width": 127, "height": 201,
    "title": {"text": "G", "dx": -58, "offset": 1},
    "data": {"name": "gGen"},
    "mark": {"type": "bar"},
    "encoding": {
     "x": {"field": "sample", "type": "nominal", "sort": ["T", "N"], "scale": {"domain": ["T", "N"], "paddingInner": 0.49, "paddingOuter": 0.254},
           "axis": {"title": "Genus level", "labelAngle": 0, "labelFont": "Liberation Serif", "labelFontSize": 9, "labelColor": "#000000", "titleFont": "Liberation Serif", "titleFontSize": 8.5, "ticks": false, "domain": false, "labelPadding": 1, "titlePadding": 0}},
     "y": {"field": "value", "type": "quantitative", "stack": "zero", "scale": {"domain": [0, 100], "nice": false},
           "axis": {"title": "Relative abundance (%)", "values": [0, 20, 40, 60, 80, 100], "labelExpr": "datum.value + '%'", "labelFont": "Liberation Serif", "labelFontSize": 8, "labelColor": "#000000", "titleFont": "Liberation Serif", "titleFontSize": 8, "domain": true, "domainColor": "#000000", "ticks": true, "tickColor": "#000000", "tickSize": 3, "labelPadding": 1, "titlePadding": 4}},
     "color": {"field": "taxon", "type": "nominal",
               "scale": {"domain": ["Unassigned", "Others", "Oryza_sativa_Japonica_Group_Japanese_rice", "Corynebacterium_1", "Ruminococcus_1", "Klebsiella", "Cutibacterium", "uncultured_bacterium", "Lachnospiraceae_NK4A136_group", "uncultured_bacterium_f_Muribaculaceae", "Ochrobactrum", "Rhodococcus"],
                         "range": ["#3C5488", "#00A087", "#17BECF", "#BCBD22", "#9E9E9E", "#E377C2", "#8C564B", "#9467BD", "#D62728", "#2CA02C", "#FF7F0E", "#1F77B4"]},
               "legend": {"title": null, "orient": "right", "offset": 2, "symbolType": "square", "symbolSize": 36, "symbolStrokeWidth": 0, "labelFont": "Liberation Serif", "labelFontSize": 7.5, "labelColor": "#333333", "rowPadding": 8.5, "labelOffset": 5, "labelLimit": 300}},
     "order": {"field": "rank", "type": "quantitative"}
    }}
  ], "spacing": 215, "bounds": "flush",
  "resolve": {"scale": {"color": "independent", "fill": "independent", "stroke": "independent"}, "legend": {"color": "independent"}}}
 ], "spacing": 0, "bounds": "flush",
 "resolve": {"scale": {"color": "independent", "fill": "independent", "stroke": "independent"}, "legend": {"color": "independent"}}}
 ], "spacing": -1,
 "resolve": {"scale": {"color": "independent", "fill": "independent", "stroke": "independent"}, "legend": {"color": "independent"}}}
]
}
